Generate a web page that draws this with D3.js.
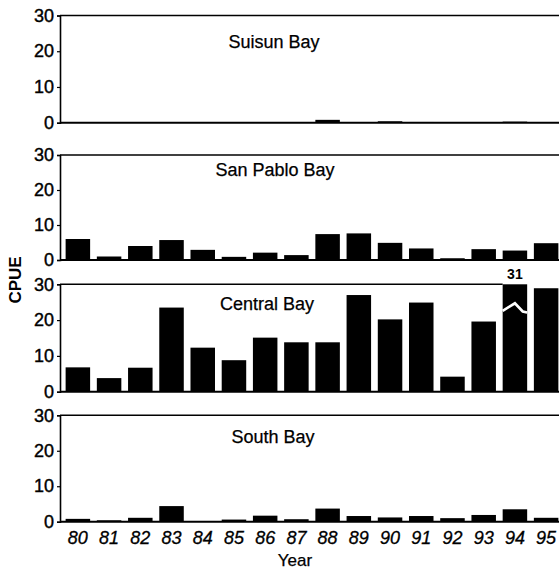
<!DOCTYPE html>
<html>
<head>
<meta charset="utf-8">
<script src="https://cdn.jsdelivr.net/npm/d3@7/dist/d3.min.js"></script>
<style>
  html, body { margin: 0; padding: 0; background: #fff; }
  svg { display: block; }
  text { font-family: "Liberation Sans", Arial, Helvetica, sans-serif; fill: #000; }
</style>
</head>
<body>
<svg id="chart" width="559" height="572"></svg>
<script>
// ---- data ----
const years = ["80","81","82","83","84","85","86","87","88","89","90","91","92","93","94","95"];
const panelNames = ["Suisun Bay", "San Pablo Bay", "Central Bay", "South Bay"];
const suisunBay   = [0.1, 0.05, 0.1, 0.1, 0.05, 0.1, 0.1, 0.1, 0.8, 0.1, 0.4, 0.2, 0.1, 0.1, 0.3, 0.1];
const sanPabloBay = [6.0, 1.0, 4.0, 5.7, 2.9, 0.9, 2.1, 1.4, 7.4, 7.6, 4.9, 3.3, 0.5, 3.1, 2.7, 4.8];
const centralBay  = [6.8, 3.8, 6.7, 23.5, 12.3, 8.8, 15.1, 13.8, 13.8, 27.0, 20.2, 24.9, 4.2, 19.6, 31, 28.9];
const southBay    = [0.8, 0.4, 1.1, 4.4, 0.2, 0.6, 1.7, 0.7, 3.7, 1.6, 1.2, 1.6, 1.0, 1.9, 3.5, 1.1];
const yTicks = [0, 10, 20, 30];
const yMax = 30;
const yLabel = "CPUE";
const xLabel = "Year";

const series = [suisunBay, sanPabloBay, centralBay, southBay];

// ---- layout (positions / styles) ----
const panelLayout = [
  { top: 15.5,  bottom: 122.7, titleX: 274, titleY: 48 },
  { top: 155,   bottom: 260,   titleX: 275, titleY: 176 },
  { top: 284.3, bottom: 391.7, titleX: 267, titleY: 310 },
  { top: 415.3, bottom: 521.7, titleX: 273, titleY: 443 }
];

const svg = d3.select("#chart");
const x = d3.scaleBand().domain(years).range([60, 564]).paddingInner(0.215).paddingOuter(0.18);

series.forEach((vals, i) => {
  const L = panelLayout[i];
  const y = d3.scaleLinear().domain([0, yMax]).range([L.bottom, L.top]);
  const g = svg.append("g");

  // bars (clamped at the axis max)
  g.selectAll("rect.bar").data(vals.map((v, j) => ({ year: years[j], v })))
    .join("rect").attr("class", "bar")
    .attr("x", d => x(d.year))
    .attr("width", x.bandwidth())
    .attr("y", d => y(Math.min(d.v, yMax)))
    .attr("height", d => y(0) - y(Math.min(d.v, yMax)))
    .attr("fill", "#000");

  // broken (off-scale) bars: value label + white break mark
  vals.forEach((v, j) => {
    if (v > yMax) {
      const x0 = x(years[j]), bw = x.bandwidth();
      g.append("text")
        .attr("x", x0 + bw / 2).attr("y", y(yMax) - 5)
        .attr("text-anchor", "middle")
        .attr("font-size", 14).attr("font-weight", "bold")
        .text(String(v));
      const brk = [[0, 22.6], [0.5, 24.7], [0.82, 22.4], [1.0, 22.1]];
      g.append("path")
        .attr("d", d3.line().curve(d3.curveLinear)(brk.map(p => [x0 + p[0] * bw, y(p[1])])))
        .attr("fill", "none").attr("stroke", "#fff").attr("stroke-width", 2.6);
    }
  });

  // frame: top line (stops at an off-scale bar), bottom baseline
  const overIdx = vals.findIndex(v => v > yMax);
  const topEnd = overIdx >= 0 ? x(years[overIdx]) : 565;
  g.append("line").attr("x1", 60).attr("x2", topEnd).attr("y1", y(yMax)).attr("y2", y(yMax))
    .attr("stroke", "#000").attr("stroke-width", 1.6);
  g.append("line").attr("x1", 60).attr("x2", 565).attr("y1", y(0)).attr("y2", y(0))
    .attr("stroke", "#000").attr("stroke-width", 2);

  // y axis
  const ax = g.append("g").attr("transform", "translate(60,0)")
    .call(d3.axisLeft(y).tickValues(yTicks).tickSize(3).tickPadding(3).tickFormat(d3.format("d")));
  ax.select(".domain").attr("stroke", "#000").attr("stroke-width", 1.6);
  ax.selectAll(".tick line").attr("stroke", "#000").attr("stroke-width", 1.2);
  ax.selectAll(".tick text").attr("font-size", 18).attr("font-family", "Liberation Sans, Arial, sans-serif")
    .attr("fill", "#000").attr("stroke", "#000").attr("stroke-width", 0.4);

  // panel title
  g.append("text").attr("x", L.titleX).attr("y", L.titleY)
    .attr("text-anchor", "middle").attr("font-size", 18)
    .attr("stroke", "#000").attr("stroke-width", 0.25)
    .text(panelNames[i]);

  // x axis labels only on the last panel
  if (i === series.length - 1) {
    const xa = g.append("g").attr("transform", `translate(0,${L.bottom})`)
      .call(d3.axisBottom(x).tickSize(0).tickPadding(10));
    xa.select(".domain").remove();
    xa.selectAll(".tick text").attr("font-size", 18).attr("font-style", "italic")
      .attr("font-family", "Liberation Sans, Arial, sans-serif").attr("fill", "#000")
      .attr("stroke", "#000").attr("stroke-width", 0.3);
  }
});

// axis titles
svg.append("text").attr("transform", "translate(21,280) rotate(-90)")
  .attr("text-anchor", "middle").attr("font-size", 17).attr("font-weight", "bold")
  .text(yLabel);
svg.append("text").attr("x", 295).attr("y", 566)
  .attr("text-anchor", "middle").attr("font-size", 17)
  .attr("stroke", "#000").attr("stroke-width", 0.25)
  .text(xLabel);
</script>
</body>
</html>
